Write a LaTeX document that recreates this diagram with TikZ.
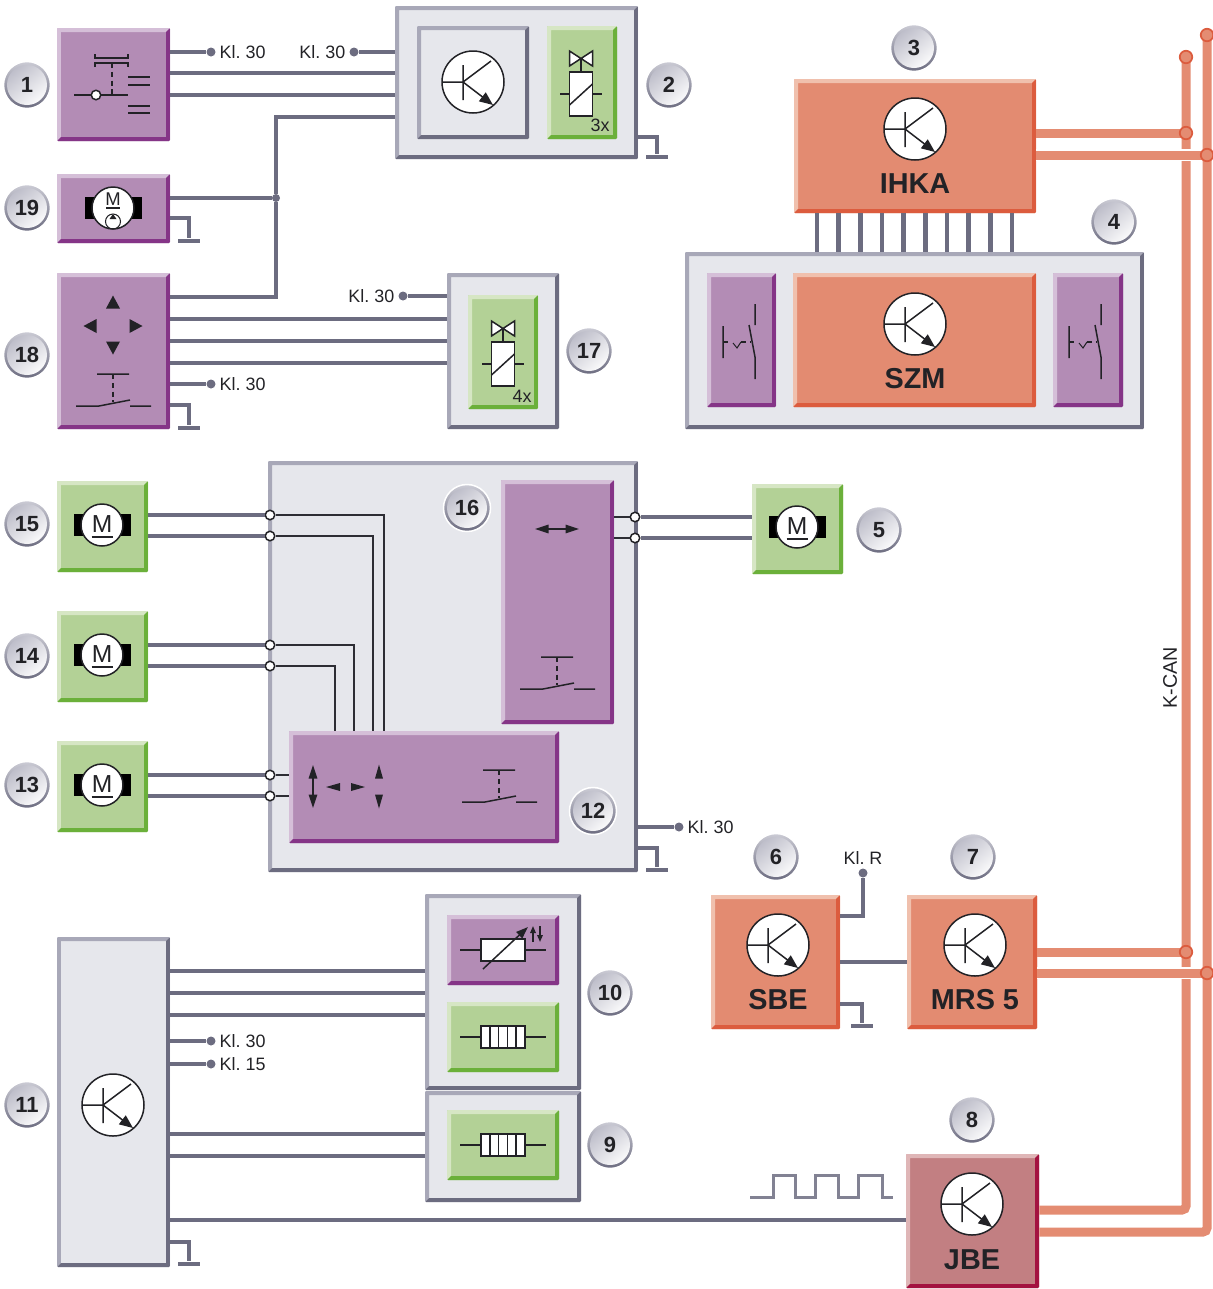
\documentclass[tikz,border=0pt]{standalone}
\usepackage{fontspec}
\setmainfont{Liberation Sans}
\usetikzlibrary{arrows.meta, positioning}
\frenchspacing

\definecolor{wirecol}{HTML}{6C6C80}
\definecolor{inkcol}{HTML}{222226}
\definecolor{buscol}{HTML}{E48C72}
\definecolor{greymain}{HTML}{E6E7EC}
\definecolor{greylight}{HTML}{A8A8B8}
\definecolor{greydark}{HTML}{6C6C80}
\definecolor{purpmain}{HTML}{B38CB5}
\definecolor{purplight}{HTML}{D5BFD8}
\definecolor{purpdark}{HTML}{853587}
\definecolor{greenmain}{HTML}{B3D196}
\definecolor{greenlight}{HTML}{D6E6C4}
\definecolor{greendark}{HTML}{6BB03A}
\definecolor{orangemain}{HTML}{E38B71}
\definecolor{orangelight}{HTML}{F0C0AD}
\definecolor{orangedark}{HTML}{DC5C3E}
\definecolor{redmain}{HTML}{C27F82}
\definecolor{redlight}{HTML}{DFB6B7}
\definecolor{reddark}{HTML}{A31240}

\tikzset{
  bevel/.style n args={3}{rectangle, inner sep=0pt, rounded corners=.6pt, fill=#1,
    path picture={
      \fill[#2, sharp corners] (path picture bounding box.south west) -- (path picture bounding box.north west) -- (path picture bounding box.north east)
        -- ([xshift=-.08cm,yshift=-.08cm]path picture bounding box.north east) -- ([xshift=.08cm,yshift=-.08cm]path picture bounding box.north west)
        -- ([xshift=.08cm,yshift=.08cm]path picture bounding box.south west) -- cycle;
      \fill[#3, sharp corners] (path picture bounding box.south west) -- (path picture bounding box.south east) -- (path picture bounding box.north east)
        -- ([xshift=-.08cm,yshift=-.08cm]path picture bounding box.north east) -- ([xshift=-.08cm,yshift=.08cm]path picture bounding box.south east)
        -- ([xshift=.08cm,yshift=.08cm]path picture bounding box.south west) -- cycle;
    }},
  wh/.style 2 args={minimum width=#1*.02cm, minimum height=#2*.02cm},
  greybox/.style={bevel={greymain}{greylight}{greydark}},
  purplebox/.style={bevel={purpmain}{purplight}{purpdark}},
  greenbox/.style={bevel={greenmain}{greenlight}{greendark}},
  orangebox/.style={bevel={orangemain}{orangelight}{orangedark}},
  redbox/.style={bevel={redmain}{redlight}{reddark}},
  wire/.style={draw=wirecol, line width=.09cm},
  thinwire/.style={draw=inkcol!85!wirecol, line width=.035cm},
  bus/.style={draw=buscol, line width=.18cm},
  halo/.style={draw=white, line width=.24cm},
  sym/.style={draw=inkcol, line width=.03cm},
  tip/.style={fill=inkcol},
  dotk/.style={circle, fill=wirecol, inner sep=0pt, minimum size=.18cm},
  joint/.style={circle, fill=wirecol, inner sep=0pt, minimum size=.16cm},
  opendot/.style={circle, fill=white, draw=inkcol, line width=.03cm, inner sep=0pt, minimum size=.19cm},
  busdot/.style={circle, fill=buscol, draw=orangedark, line width=.035cm, inner sep=0pt, minimum size=.25cm},
  gnd/.style={rectangle, fill=wirecol, inner sep=0pt, minimum width=.44cm, minimum height=.09cm},
  klem/.style={inner sep=0pt, text=inkcol, font=\fontsize{10.2}{12}\selectfont},
  title/.style={inner sep=0pt, text=inkcol, font=\fontsize{16.4}{18}\selectfont\bfseries},
  badge/.style={circle, inner sep=0pt, minimum size=.94cm, draw=white, line width=.03cm,
    top color=greylight!60, bottom color=greydark, text=inkcol, font=\fontsize{12.5}{14}\selectfont\bfseries,
    path picture={\shade[top color=greylight!80, bottom color=white, shading angle=40] (path picture bounding box.center) circle (20);}},
  % symbols
  transistor/.pic={
    \draw[sym, fill=white] (0,0) circle (31);
    \draw[sym] (-31,0) -- (-10,0) (-10,-17) -- (-10,18) (-10,0) -- (18,-21);
    \draw[sym, -{Triangle[length=.27cm,width=.22cm]}] (-10,0) -- (20,23);
  },
  motor/.pic={
    \fill[black] (-28.5,-11) rectangle (28.5,11);
    \draw[sym, fill=white] (0,0) circle (21);
    \node[inner sep=0pt, text=inkcol, font=\fontsize{14}{16}\selectfont] (mm) at (0,-1) {M};
    \draw[sym] (-10.5,12) -- (10.5,12);
  },
  pumpmotor/.pic={
    \fill[black] (-28.5,-11) rectangle (28.5,11);
    \draw[sym, fill=white] (0,0) circle (21);
    \node[inner sep=0pt, text=inkcol, font=\fontsize{10.5}{12}\selectfont] (mm) at (0,-9) {M};
    \draw[sym] (-7,0) -- (7,0);
    \draw[sym, line width=.02cm] (0,13.5) circle (7.5);
    \fill[tip] (-3.5,11) -- (3.5,11) -- (0,6) -- cycle;
  },
  pushswitch/.pic={
    \draw[sym] (-16,0) -- (16,0) (-37,32) -- (-14,32) -- (17,26) (17,32) -- (38,32);
    \draw[sym, densely dashed] (0,0) -- (0,28);
  },
  thermoswitch/.pic={
    \draw[sym] (0,-16) -- (0,16) (32,-38) -- (32,-17) (26,-17) -- (32,15) -- (32,37);
    \draw[sym, densely dashed] (0,0) -- (8,0) (18,0) -- (27,0);
    \draw[sym, line width=.02cm] (10,1) -- (14,6) -- (18,0);
  },
  valve/.pic={
    \draw[sym, fill=white] (-11.5,-43) -- (11.5,-28) -- (11.5,-43) -- (-11.5,-28) -- cycle;
    \draw[sym] (0,-35.5) -- (0,-22) (-21,0) -- (21,0);
    \draw[sym, fill=white] (-11.5,-22) rectangle (11.5,22);
    \draw[sym] (-11.5,11) -- (11.5,-10);
  },
  heater/.pic={
    \draw[sym] (-43,0) -- (43,0);
    \draw[sym, fill=white] (-22,-11) rectangle (22,11);
    \foreach \k in {-13.2,-4.4,4.4,13.2} {\draw[sym] (\k,-11) -- (\k,11);}
  },
  tri/.pic={\fill[tip] (-7,6.5) -- (7,6.5) -- (0,-6.5) -- cycle;},
  tinytri/.pic={\fill[tip] (-4,7) -- (4,7) -- (0,-7) -- cycle;}
}

\begin{document}
\begin{tikzpicture}[x=.02cm, y=-.02cm]
\useasboundingbox (0,0) rectangle (1213,1289);
% Steuergeraete
\node[purplebox, wh={113}{113}] (relay) at (113.5,84.5) {};
\node[purplebox, wh={113}{69}] (pump) at (113.5,208.5) {};
\node[purplebox, wh={113}{156}] (panel) at (113.5,351) {};
\node[greybox, wh={243}{153}] (block) at (516.5,82.5) {};
\node[greybox, wh={112}{113}] (blockin) at (473,82.5) {};
\node[greenbox, wh={70}{113}] (blockv) at (582,82.5) {};
\node[orangebox, wh={242}{134}] (ihka) at (915,146) {};
\node[greybox, wh={459}{177}] (szmbox) at (914.5,340.5) {};
\node[purplebox, wh={69}{134}] (szml) at (741.5,340) {};
\node[orangebox, wh={243}{134}] (szm) at (914.5,340) {};
\node[purplebox, wh={70}{134}] (szmr) at (1088,340) {};
\node[greybox, wh={112}{156}] (valves) at (503,351) {};
\node[greenbox, wh={70}{114}] (valvesin) at (503,352) {};
\node[greenbox, wh={91}{91}] (mot15) at (102.5,526.5) {};
\node[greenbox, wh={91}{91}] (mot14) at (102.5,656.5) {};
\node[greenbox, wh={91}{91}] (mot13) at (102.5,786.5) {};
\node[greenbox, wh={91}{90}] (mot5) at (797.5,529) {};
\node[greybox, wh={370}{411}] (seat) at (453,666.5) {};
\node[purplebox, wh={113}{244}] (seatr) at (557.5,602) {};
\node[purplebox, wh={270}{112}] (seatb) at (424,787) {};
\node[greybox, wh={113}{330}] (ecu) at (113.5,1102) {};
\node[greybox, wh={156}{196}] (heat10) at (503,992) {};
\node[greybox, wh={156}{111}] (heat9) at (503,1146.5) {};
\node[purplebox, wh={112}{70}] (sens) at (503,950) {};
\node[greenbox, wh={112}{70}] (heata) at (503,1037) {};
\node[greenbox, wh={112}{70}] (heatb) at (503,1145) {};
\node[orangebox, wh={129}{134}] (sbe) at (775.5,962) {};
\node[orangebox, wh={130}{134}] (mrs) at (972,962) {};
\node[redbox, wh={133}{134}] (jbe) at (972.5,1221) {};

% Klemmen und Masse
\node[dotk] (k1) at (211,52) {};
\node[klem, right=2pt of k1] (k1t) {Kl. 30};
\node[dotk] (k2) at (354,52) {};
\node[klem, left=2pt of k2] (k2t) {Kl. 30};
\node[dotk] (k17) at (403,296) {};
\node[klem, left=2pt of k17] (k17t) {Kl. 30};
\node[dotk] (k18) at (211,384) {};
\node[klem, right=2pt of k18] (k18t) {Kl. 30};
\node[dotk] (k16) at (679,827) {};
\node[klem, right=2pt of k16] (k16t) {Kl. 30};
\node[dotk] (k11a) at (211,1041) {};
\node[klem, right=2pt of k11a] (k11at) {Kl. 30};
\node[dotk] (k11b) at (211,1064) {};
\node[klem, right=2pt of k11b] (k11bt) {Kl. 15};
\node[dotk] (kr) at (863,873) {};
\node[klem, above=2pt of kr] (krt) {Kl. R};
\node[gnd] (g2) at (657,157) {};
\node[gnd] (g19) at (189,241) {};
\node[gnd] (g18) at (189,428) {};
\node[gnd] (g16) at (657,870) {};
\node[gnd] (g6) at (862,1026) {};
\node[gnd] (g11) at (189,1264) {};
\node[joint] (j1) at (276,198) {};

% Leitungen
\draw[wire] (relay.east |- k1) -- (k1);
\draw[wire] (k2) -- (block.west |- k2);
\draw[wire] (relay.east |- 0,73) -- (block.west |- 0,73);
\draw[wire] (relay.east |- 0,95) -- (block.west |- 0,95);
\draw[wire] (panel.east |- 0,297) -| (j1) |- (block.west |- 0,117);
\draw[wire] (pump.east |- j1) -- (j1);
\draw[wire] (pump.east |- 0,218) -| (g19);
\draw[wire] (block.east |- 0,137) -| (g2);
\draw[wire] (k17) -- (valves.west |- k17);
\draw[wire] (panel.east |- 0,319) -- (valves.west |- 0,319);
\draw[wire] (panel.east |- 0,341) -- (valves.west |- 0,341);
\draw[wire] (panel.east |- 0,363) -- (valves.west |- 0,363);
\draw[wire] (panel.east |- k18) -- (k18);
\draw[wire] (panel.east |- 0,405) -| (g18);
\foreach \i in {0,...,9} {
  \pgfmathsetmacro\xb{817+\i*21.67}
  \draw[wire] (ihka.south -| \xb,0) -- (szmbox.north -| \xb,0);
}
\foreach \nm/\yy in {o15a/515, o15b/536, o14a/645, o14b/666, o13a/775, o13b/796} {
  \node[opendot] (\nm) at (270,\yy) {};
}
\node[opendot] (o5a) at (635,517) {};
\node[opendot] (o5b) at (635,538) {};
\draw[wire] (mot15.east |- o15a) -- (o15a);
\draw[wire] (mot15.east |- o15b) -- (o15b);
\draw[wire] (mot14.east |- o14a) -- (o14a);
\draw[wire] (mot14.east |- o14b) -- (o14b);
\draw[wire] (mot13.east |- o13a) -- (o13a);
\draw[wire] (mot13.east |- o13b) -- (o13b);
\draw[wire] (mot5.west |- o5a) -- (o5a);
\draw[wire] (mot5.west |- o5b) -- (o5b);
\draw[thinwire] (o15a) -| (seatb.north -| 384,0);
\draw[thinwire] (o15b) -| (seatb.north -| 373,0);
\draw[thinwire] (o14a) -| (seatb.north -| 354,0);
\draw[thinwire] (o14b) -| (seatb.north -| 335,0);
\draw[thinwire] (o13a) -- (seatb.west |- o13a);
\draw[thinwire] (o13b) -- (seatb.west |- o13b);
\draw[thinwire] (o5a) -- (seatr.east |- o5a);
\draw[thinwire] (o5b) -- (seatr.east |- o5b);
\draw[wire] (seat.east |- k16) -- (k16);
\draw[wire] (seat.east |- 0,848) -| (g16);
\draw[wire] (ecu.east |- 0,971) -- (heat10.west |- 0,971);
\draw[wire] (ecu.east |- 0,993) -- (heat10.west |- 0,993);
\draw[wire] (ecu.east |- 0,1015) -- (heat10.west |- 0,1015);
\draw[wire] (ecu.east |- k11a) -- (k11a);
\draw[wire] (ecu.east |- k11b) -- (k11b);
\draw[wire] (ecu.east |- 0,1134) -- (heat9.west |- 0,1134);
\draw[wire] (ecu.east |- 0,1156) -- (heat9.west |- 0,1156);
\draw[wire] (ecu.east |- 0,1220) -- (jbe.west |- 0,1220);
\draw[wire] (ecu.east |- 0,1242) -| (g11);
\draw[wire] (sbe.east |- 0,916) -| (kr);
\draw[wire] (sbe.east |- 0,962) -- (mrs.west |- 0,962);
\draw[wire] (sbe.east |- 0,1004) -| (g6);
\draw[wire, draw=wirecol!85, line width=.06cm] (750,1197) -- (773,1197) -- (773,1175) -- (795,1175) -- (795,1197) -- (815,1197) -- (815,1175) -- (838,1175) -- (838,1197) -- (858,1197) -- (858,1175) -- (882,1175) -- (882,1197) -- (893,1197);

% K-CAN
\coordinate (topa) at (1186,57);
\coordinate (topb) at (1207,35);
\coordinate (ja) at (1186,133);
\coordinate (jb) at (1207,155);
\coordinate (jc) at (1186,952);
\coordinate (jd) at (1207,973);
\draw[bus, rounded corners=.08cm] (jbe.east |- 0,1210) -| (topa);
\draw[bus] (ihka.east |- ja) -- (ja);
\draw[bus] (mrs.east |- jc) -- (jc);
\draw[halo] (ihka.east |- jb) -- (jb);
\draw[halo] (mrs.east |- jd) -- (jd);
\draw[bus] (ihka.east |- jb) -- (jb);
\draw[bus] (mrs.east |- jd) -- (jd);
\draw[bus, rounded corners=.08cm] (jbe.east |- 0,1232) -| (topb);
\foreach \nm/\at in {da/topa, db/topb, dc/ja, dd/jb, de/jc, df/jd} {
  \node[busdot] (\nm) at (\at) {};
}
\node[klem, rotate=90, font=\fontsize{11.2}{13}\selectfont] (kcan) at (1170,678) {K-CAN};

% Symbole
\pic at (473,82) {transistor};
\pic at (915,129) {transistor};
\pic at (915,324) {transistor};
\pic at (778,945) {transistor};
\pic at (975,945) {transistor};
\pic at (972,1204) {transistor};
\pic at (113,1105) {transistor};
\pic at (113,208) {pumpmotor};
\pic at (102,525) {motor};
\pic at (102,655) {motor};
\pic at (102,785) {motor};
\pic at (797,527) {motor};
\pic at (581,94) {valve};
\pic at (503,364) {valve};
\pic at (723,342) {thermoswitch};
\pic at (1069,342) {thermoswitch};
\pic at (113,374) {pushswitch};
\pic at (557,657) {pushswitch};
\pic at (499,770) {pushswitch};
\pic at (503,1037) {heater};
\pic at (503,1145) {heater};
% Schalter Relais
\draw[sym] (95,54) -- (95,58) -- (128,58) -- (128,54) (95,67) -- (95,63) -- (128,63) -- (128,67);
\draw[sym, densely dashed] (112,63) -- (112,95);
\draw[sym] (74,95) -- (128,95);
\node[opendot] (rc) at (96,95) {};
\foreach \yy in {77,85,106,113} {\draw[sym] (128,\yy) -- (150,\yy);}
% Pfeile
\pic at (113,302) {tri};
\pic[rotate=90] at (90,326) {tri};
\pic[rotate=270] at (136,326) {tri};
\pic[rotate=180] at (113,348) {tri};
\draw[sym, {Triangle[length=.27cm,width=.17cm]}-{Triangle[length=.27cm,width=.17cm]}] (535,529) -- (579,529);
\draw[sym, {Triangle[length=.27cm,width=.17cm]}-{Triangle[length=.27cm,width=.17cm]}] (313,765) -- (313,808);
\pic[rotate=90] at (333,787) {tinytri};
\pic[rotate=270] at (358,787) {tinytri};
\pic at (379,771.5) {tinytri};
\pic[rotate=180] at (379,801.5) {tinytri};
% Sensor
\draw[sym] (460,950) -- (546,950);
\draw[sym, fill=white] (481,939) rectangle (525,961);
\draw[sym, -{Triangle[length=.24cm,width=.17cm]}] (483,969) -- (528,927);
\draw[sym, -{Triangle[length=.14cm,width=.11cm]}] (533,942) -- (533,926);
\draw[sym, -{Triangle[length=.14cm,width=.11cm]}] (540,926) -- (540,942);

% Beschriftung
\node[title] (tihka) at (915,184) {IHKA};
\node[title] (tszm) at (915,379) {SZM};
\node[title] (tsbe) at (778,1000) {SBE};
\node[title] (tmrs) at (975,1000) {MRS 5};
\node[title] (tjbe) at (972,1260) {JBE};
\node[klem] (n3x) at (600,125) {3x};
\node[klem] (n4x) at (522,396) {4x};

\node[badge] (b1) at (27,85) {1};
\node[badge] (b2) at (669,85) {2};
\node[badge] (b3) at (914,48) {3};
\node[badge] (b4) at (1114,222) {4};
\node[badge] (b5) at (879,530) {5};
\node[badge] (b6) at (776,857) {6};
\node[badge] (b7) at (973,857) {7};
\node[badge] (b8) at (972,1120) {8};
\node[badge] (b9) at (610,1145) {9};
\node[badge] (b10) at (610,993) {10};
\node[badge] (b11) at (27,1105) {11};
\node[badge] (b12) at (593,811) {12};
\node[badge] (b13) at (27,785) {13};
\node[badge] (b14) at (27,656) {14};
\node[badge] (b15) at (27,524) {15};
\node[badge] (b16) at (467,508) {16};
\node[badge] (b17) at (589,351) {17};
\node[badge] (b18) at (27,355) {18};
\node[badge] (b19) at (27,208) {19};
\end{tikzpicture}
\end{document}
